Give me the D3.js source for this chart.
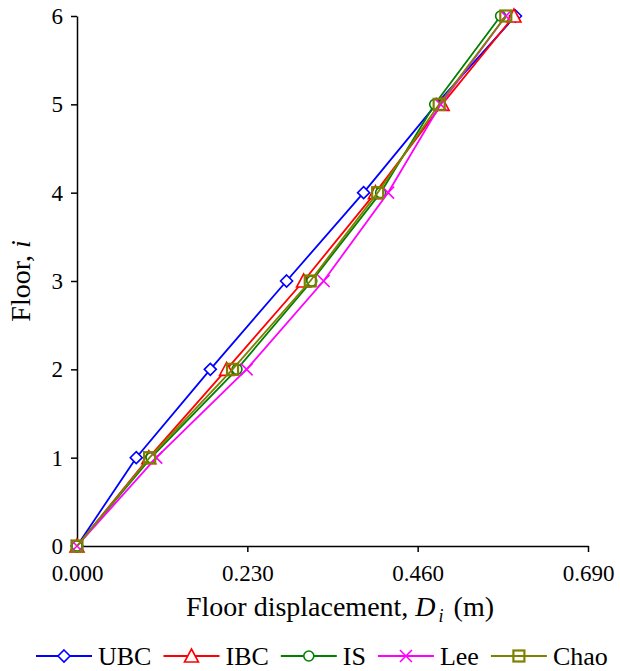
<!DOCTYPE html>
<html>
<head>
<meta charset="utf-8">
<script src="https://cdn.jsdelivr.net/npm/d3@7"></script>
<style>
  body { margin: 0; background: #fff; }
  svg { display: block; font-family: "Liberation Serif", "Times New Roman", serif; }
  svg text { font-family: "Liberation Serif", "Times New Roman", serif; }
</style>
</head>
<body>
<div id="chart"></div>
<script>
// floors 0..6
const floors = [0, 1, 2, 3, 4, 5, 6];
const ubc  = [0, 0.080, 0.180, 0.283, 0.387, 0.485, 0.592];
const ibc  = [0, 0.097, 0.202, 0.306, 0.403, 0.493, 0.590];
const is   = [0, 0.100, 0.216, 0.317, 0.410, 0.483, 0.572];
const lee  = [0, 0.107, 0.229, 0.333, 0.420, 0.491, 0.579];
const chao = [0, 0.098, 0.210, 0.315, 0.406, 0.489, 0.579];
const xTicks = [0, 0.23, 0.46, 0.69];
const yTicks = [0, 1, 2, 3, 4, 5, 6];

const series = [
    { name: "UBC",  values: ubc,  color: "#0000ff", marker: "diamond" },
    { name: "IBC",  values: ibc,  color: "#ff0000", marker: "triangle" },
    { name: "IS",   values: is,   color: "#008000", marker: "circle" },
    { name: "Lee",  values: lee,  color: "#ff00ff", marker: "cross" },
    { name: "Chao", values: chao, color: "#808000", marker: "square" }
];

const width = 620, height = 671;
const margin = { top: 16, right: 32, bottom: 125, left: 77 };

const svg = d3.select("#chart").append("svg")
    .attr("width", width)
    .attr("height", height);

const x = d3.scaleLinear().domain([0, 0.69]).range([margin.left, width - margin.right]);
const y = d3.scaleLinear().domain([0, 6]).range([height - margin.bottom, margin.top]);

// axes
const xAxis = svg.append("g")
    .attr("transform", `translate(0,${y(0)})`)
    .call(d3.axisBottom(x).tickValues(xTicks).tickFormat(d3.format(".3f")).tickSize(6).tickSizeOuter(0));
const yAxis = svg.append("g")
    .attr("transform", `translate(${x(0)},0)`)
    .call(d3.axisLeft(y).tickValues(yTicks).tickFormat(d3.format("d")).tickSize(6).tickSizeOuter(0));

[xAxis, yAxis].forEach(g => {
    g.attr("font-family", null).attr("font-size", null);
    g.select(".domain").attr("stroke", "#000").attr("stroke-width", 1.5);
    g.selectAll(".tick line").attr("stroke", "#000").attr("stroke-width", 1.5);
    g.selectAll(".tick text")
        .style("font-family", "'Liberation Serif', 'Times New Roman', serif")
        .attr("font-size", 23).attr("fill", "#000");
});
xAxis.selectAll(".tick text").attr("dy", "1.15em");
yAxis.selectAll(".tick text").attr("x", -14);

// titles
svg.append("text")
    .attr("x", 340)
    .attr("y", 616)
    .attr("text-anchor", "middle")
    .attr("font-size", 28)
    .call(t => {
        t.append("tspan").text("Floor displacement, ");
        t.append("tspan").attr("font-style", "italic").text("D");
        t.append("tspan").attr("font-style", "italic").attr("font-size", 18).attr("dx", 3).attr("dy", 6).text("i");
        t.append("tspan").attr("dy", -6).attr("dx", 10).text("(m)");
    });

svg.append("text")
    .attr("transform", `translate(30,${y(3)}) rotate(-90)`)
    .attr("text-anchor", "middle")
    .attr("font-size", 28)
    .call(t => {
        t.append("tspan").text("Floor, ");
        t.append("tspan").attr("font-style", "italic").text("i");
    });

function drawMarker(g, type, color) {
    const s = 6;
    if (type === "diamond") {
        g.append("path").attr("d", `M0,${-s}L${s},0L0,${s}L${-s},0Z`)
            .attr("fill", "#fff").attr("stroke", color).attr("stroke-width", 1.6);
    } else if (type === "triangle") {
        g.append("path").attr("d", `M0,${-s - 1}L${s + 1},${s}L${-s - 1},${s}Z`)
            .attr("fill", "#fff").attr("stroke", color).attr("stroke-width", 1.6);
    } else if (type === "circle") {
        g.append("circle").attr("r", 5)
            .attr("fill", "#fff").attr("stroke", color).attr("stroke-width", 1.6);
    } else if (type === "cross") {
        g.append("path").attr("d", `M${-s},${-s}L${s},${s}M${-s},${s}L${s},${-s}`)
            .attr("fill", "none").attr("stroke", color).attr("stroke-width", 1.6);
    } else if (type === "square") {
        g.append("rect").attr("x", -5.5).attr("y", -5.5).attr("width", 11).attr("height", 11)
            .attr("fill", "none").attr("stroke", color).attr("stroke-width", 2.2);
    }
}

const line = d3.line()
    .x(d => x(d[0]))
    .y(d => y(d[1]));

series.forEach(s => {
    const pts = s.values.map((v, i) => [v, floors[i]]);
    svg.append("path")
        .datum(pts)
        .attr("d", line)
        .attr("fill", "none")
        .attr("stroke", s.color)
        .attr("stroke-width", 1.8);
    svg.append("g").selectAll("g")
        .data(pts)
        .enter()
        .append("g")
        .attr("transform", d => `translate(${x(d[0])},${y(d[1])})`)
        .each(function () { drawMarker(d3.select(this), s.marker, s.color); });
});

// legend
const legend = svg.append("g").attr("transform", "translate(36,656)");
let lx = 0;
series.forEach(s => {
    const item = legend.append("g").attr("transform", `translate(${lx},0)`);
    item.append("line").attr("x1", 0).attr("x2", 56).attr("y1", 0).attr("y2", 0)
        .attr("stroke", s.color).attr("stroke-width", 1.8);
    drawMarker(item.append("g").attr("transform", "translate(28,0)"), s.marker, s.color);
    const txt = item.append("text").attr("x", 62).attr("y", 9).attr("font-size", 26).text(s.name);
    lx += 62 + txt.node().getComputedTextLength() + 12;
});
</script>
</body>
</html>
